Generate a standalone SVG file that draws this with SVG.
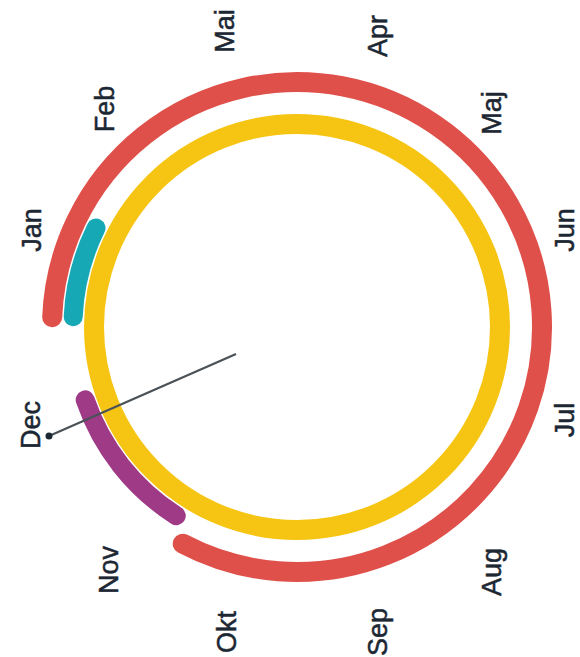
<svg xmlns="http://www.w3.org/2000/svg" width="580" height="657" viewBox="0 0 580 657">
  <style>
    .ring { fill: none; stroke-linecap: round; }
    .red { stroke: #e0504a; stroke-width: 20; }
    .yellow { stroke: #f6c514; stroke-width: 20; }
    .teal { stroke: #17a8b5; stroke-width: 19; }
    .purple { stroke: #9e3a86; stroke-width: 19; }
    .lbl { font-family: "Liberation Sans", Arial, sans-serif; font-size: 27px; fill: #1c2733; stroke: #1c2733; stroke-width: 0.5; text-anchor: middle; }
  </style>
  <rect width="580" height="657" fill="#ffffff"/>
  <g id="red-arc">
    <path class="ring red" d="M52.2,317.2 A245,245 0 1 1 182.7,543.7"/>
  </g>
  <g id="yellow-ring">
    <circle class="ring yellow" cx="297" cy="327" r="203"/>
  </g>
  <g id="teal-arc">
    <path class="ring teal" d="M73.2,316.8 A224,224 0 0 1 96,228.1"/>
  </g>
  <g id="purple-arc">
    <path class="ring purple" d="M176.3,515.7 A224,224 0 0 1 85.2,399.9"/>
  </g>
  <g id="connectors">
    <line x1="236" y1="354" x2="49" y2="436" stroke="#4a5258" stroke-width="2.2"/>
    <circle cx="49" cy="436" r="3.5" fill="#1c2733"/>
  </g>
  <g id="labels">
    <g id="lbl-jan"><text class="lbl" transform="translate(41,230) rotate(-90)">Jan</text></g>
    <g id="lbl-feb"><text class="lbl" transform="translate(114,109) rotate(-90)">Feb</text></g>
    <g id="lbl-mai"><text class="lbl" transform="translate(234,31) rotate(-90)">Mai</text></g>
    <g id="lbl-apr"><text class="lbl" transform="translate(387,36) rotate(-90)">Apr</text></g>
    <g id="lbl-maj"><text class="lbl" transform="translate(501,113) rotate(-90)">Maj</text></g>
    <g id="lbl-jun"><text class="lbl" transform="translate(574,230) rotate(-90)">Jun</text></g>
    <g id="lbl-jul"><text class="lbl" transform="translate(574,420) rotate(-90)">Jul</text></g>
    <g id="lbl-aug"><text class="lbl" transform="translate(501,572) rotate(-90)">Aug</text></g>
    <g id="lbl-sep"><text class="lbl" transform="translate(387,632) rotate(-90)">Sep</text></g>
    <g id="lbl-okt"><text class="lbl" transform="translate(236,632) rotate(-90)">Okt</text></g>
    <g id="lbl-nov"><text class="lbl" transform="translate(118,570) rotate(-90)">Nov</text></g>
    <g id="lbl-dec"><text class="lbl" transform="translate(40,425) rotate(-90)">Dec</text></g>
  </g>
</svg>
